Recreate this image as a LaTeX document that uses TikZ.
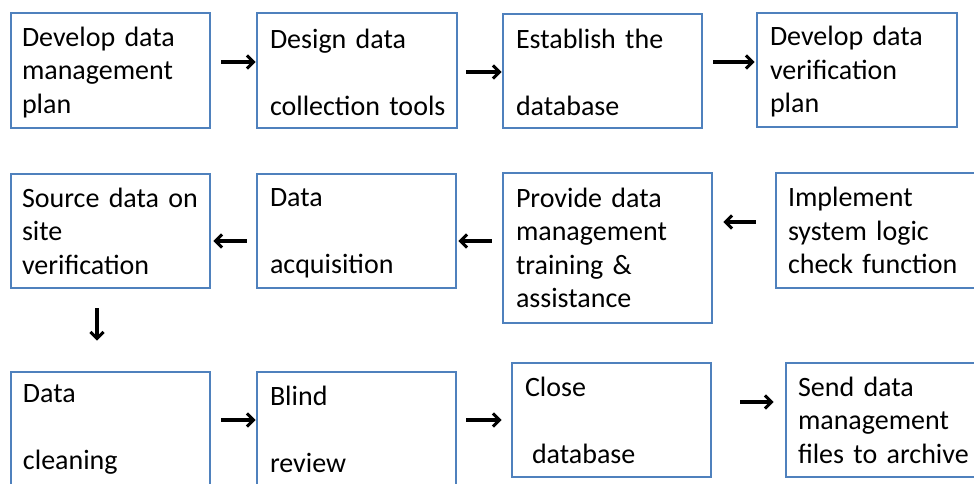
\documentclass[tikz,border=0pt]{standalone}
\usepackage{fontspec}
\setmainfont{Carlito}
\usetikzlibrary{arrows.meta}
\definecolor{boxblue}{HTML}{4F81BD}
\newcommand\tstrut{\rule{0pt}{23pt}}
\tikzset{
  box/.style={draw=boxblue, line width=2.8pt, fill=white, align=left,
    inner ysep=0pt, font=\fontsize{28}{33.5}\selectfont},
  arr/.style={line width=3.2pt, -{Straight Barb[length=6.5pt,width=13pt,line width=3pt]}}
}
\begin{document}
\begin{tikzpicture}[x=1pt,y=-1pt]
\useasboundingbox (0,0) rectangle (974,483);
\clip (0,0) rectangle (974,483);
\fill[white] (0,0) rectangle (974,483);
% row 1
\node[box, minimum width=199pt, minimum height=115pt, text width=177pt, inner xsep=11pt] (A) at (110.5,70.5) {\tstrut Develop~data\\management\\plan};
\node[box, minimum width=200pt, minimum height=115pt, text width=174pt, inner xsep=13pt] (B) at (357,70.5) {\tstrut Design~data\\\mbox{}\\collection~tools};
\node[box, minimum width=199pt, minimum height=114pt, text width=173pt, inner xsep=13pt] (C) at (602.5,71) {\tstrut Establish~the\\\mbox{}\\database};
\node[box, minimum width=200pt, minimum height=114pt, text width=174pt, inner xsep=13pt] (D) at (857,70) {\tstrut Develop~data\\verification\\plan};
% row 2
\node[box, minimum width=199pt, minimum height=114pt, text width=177pt, inner xsep=11pt] (E) at (110.5,231) {Source~data~on\\site\\verification};
\node[box, minimum width=199pt, minimum height=114pt, text width=173pt, inner xsep=13pt] (F) at (356.5,231) {\tstrut Data\\\mbox{}\\acquisition};
\node[box, minimum width=209pt, minimum height=150pt, text width=183pt, inner xsep=13pt] (G) at (607.5,248) {Provide~data\\management\\training~\&\\assistance};
\node[box, minimum width=200pt, minimum height=115pt, text width=176pt, inner xsep=12pt] (H) at (876,230.5) {Implement\\system~logic\\check~function};
% row 3
\node[box, minimum width=199pt, minimum height=115pt, text width=175pt, inner xsep=12pt] (I) at (110.5,429.5) {Data\\\mbox{}\\cleaning};
\node[box, minimum width=199pt, minimum height=115pt, text width=173pt, inner xsep=13pt] (J) at (356.5,429.5) {Blind\\\mbox{}\\review};
\node[box, minimum width=199pt, minimum height=114pt, text width=173pt, inner xsep=13pt] (K) at (611.5,420) {Close\\\mbox{}\\\hspace*{7pt}database};
\node[box, minimum width=200pt, minimum height=114pt, text width=176pt, inner xsep=12pt] (L) at (886,420) {Send~data\\management\\files~to~archive};
% arrows
\draw[arr] ([shift={(10,-8.5)}]A.east) -- ([shift={(0,-8.5)}]B.west);
\draw[arr] ([shift={(8,1.5)}]B.east) -- ([shift={(0,1)}]C.west);
\draw[arr] ([shift={(10,-9)}]C.east) -- ([shift={(-1,-8)}]D.west);
\draw[arr] ([shift={(-19,-8.5)}]H.west) -- ([shift={(10,-26)}]G.east);
\draw[arr] ([shift={(-10,-7)}]G.west) -- ([shift={(1,10)}]F.east);
\draw[arr] ([shift={(-9,10)}]F.west) -- ([shift={(2,10)}]E.east);
\draw[arr] ([shift={(-13.5,19)}]E.south) -- ([shift={(-13.5,-30)}]I.north);
\draw[arr] ([shift={(10,-9.5)}]I.east) -- ([shift={(0,-9.5)}]J.west);
\draw[arr] ([shift={(9,-9.5)}]J.east) -- ([shift={(-9,0)}]K.west);
\draw[arr] ([shift={(28,-18)}]K.east) -- ([shift={(-11,-18)}]L.west);
\end{tikzpicture}
\end{document}
